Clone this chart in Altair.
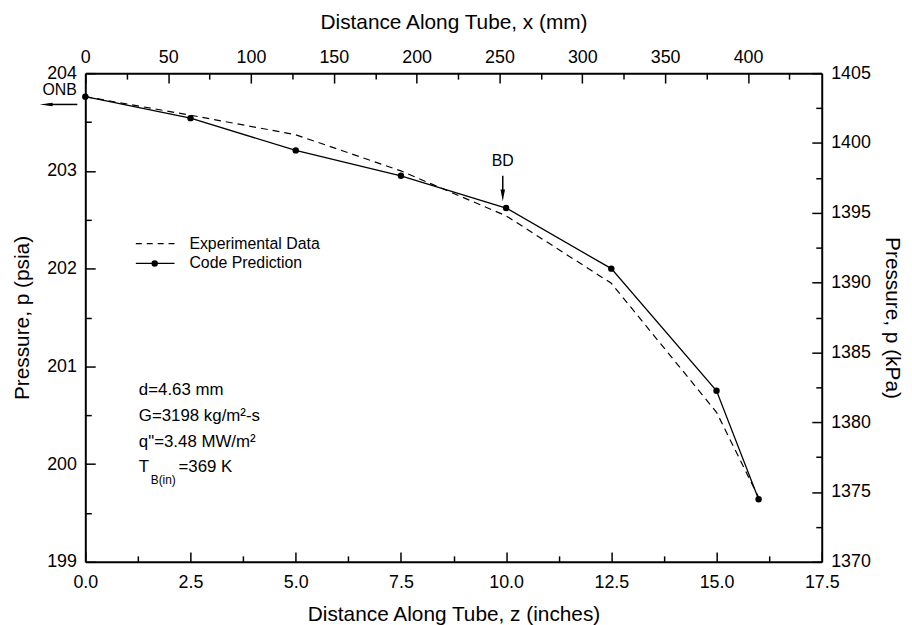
import altair as alt
import pandas as pd

FONT = "Liberation Sans"

# ---- data ----
z_in = [0.0, 2.5, 5.0, 7.5, 10.0, 12.5, 15.0, 16.0]
p_code = [203.76, 203.54, 203.21, 202.95, 202.62, 202.00, 200.75, 199.64]
p_exp = [203.76, 203.57, 203.37, 203.00, 202.54, 201.85, 200.53, 199.66]

# axis tick values (major + minor)
in_ticks = [0, 1.25, 2.5, 3.75, 5, 6.25, 7.5, 8.75, 10, 11.25, 12.5, 13.75, 15, 16.25, 17.5]
psia_ticks = [199, 199.5, 200, 200.5, 201, 201.5, 202, 202.5, 203, 203.5, 204]
mm_ticks = [0, 25, 50, 75, 100, 125, 150, 175, 200, 225, 250, 275, 300, 325, 350, 375, 400, 425]
kpa_ticks = [1370, 1372.5, 1375, 1377.5, 1380, 1382.5, 1385, 1387.5, 1390, 1392.5,
             1395, 1397.5, 1400, 1402.5, 1405]

# annotation anchors (data units)
onb_text = {"z": [-0.61], "p": [203.83]}
onb_arrow = {"z": [-0.19], "z2": [-0.9], "p": [203.68]}
onb_head = {"z": [-0.93], "p": [203.68]}
bd_text = {"z": [9.92], "p": [203.10]}
bd_arrow = {"z": [9.92], "p": [202.95], "p2": [202.76]}
bd_head = {"z": [9.92], "p": [202.75]}

df_code = pd.DataFrame({"z": z_in, "p": p_code})
df_exp = pd.DataFrame({"z": z_in, "p": p_exp})
df_sec = pd.DataFrame({"mm": [0, 444.5], "kpa": [1370, 1405]})
df_one = pd.DataFrame({"k": [0]})

xs = alt.Scale(domain=[0, 17.5], nice=False, zero=False)
ys = alt.Scale(domain=[199, 204], nice=False, zero=False)
mms = alt.Scale(domain=[0, 444.5], nice=False, zero=False)
kps = alt.Scale(domain=[1370, 1405], nice=False, zero=False)

common = dict(
    domainColor="black", domainWidth=2, tickColor="black", tickWidth=1.5,
    labelFont=FONT, labelFontSize=18, labelColor="black",
    titleFont=FONT, titleFontSize=21, titleFontWeight="normal", titleColor="black",
    grid=False, labelFlush=False, labelOverlap=False, labelBound=False,
)

x_axis = alt.Axis(
    orient="bottom", values=in_ticks,
    tickSize=alt.ExprRef("datum.value % 2.5 === 0 ? -10 : -6"),
    labelExpr="datum.value % 2.5 === 0 ? format(datum.value, '.1f') : ''",
    labelPadding=22, title="Distance Along Tube, z (inches)", titlePadding=8, **common)
y_axis = alt.Axis(
    orient="left", values=psia_ticks,
    tickSize=alt.ExprRef("datum.value % 1 === 0 ? -10 : -6"),
    labelExpr="datum.value % 1 === 0 ? format(datum.value, 'd') : ''",
    labelPadding=19, title="Pressure, p (psia)", titlePadding=14, **common)
top_axis = alt.Axis(
    orient="top", values=mm_ticks,
    tickSize=alt.ExprRef("datum.value % 50 === 0 ? -10 : -6"),
    labelExpr="datum.value % 50 === 0 ? format(datum.value, 'd') : ''",
    labelPadding=17, title="Distance Along Tube, x (mm)", titlePadding=12, **common)
right_axis = alt.Axis(
    orient="right", values=kpa_ticks,
    tickSize=alt.ExprRef("datum.value % 5 === 0 ? -10 : -6"),
    labelExpr="datum.value % 5 === 0 ? format(datum.value, 'd') : ''",
    labelPadding=19, title="Pressure, p (kPa)", titlePadding=11, **common)


def X(field="z:Q"):
    return alt.X(field, scale=xs, axis=None)


def Y(field="p:Q"):
    return alt.Y(field, scale=ys, axis=None)


exp_line = alt.Chart(df_exp).mark_line(color="black", strokeWidth=1.2, strokeDash=[7, 5]).encode(
    x=alt.X("z:Q", scale=xs, axis=x_axis), y=alt.Y("p:Q", scale=ys, axis=y_axis))
code_line = alt.Chart(df_code).mark_line(color="black", strokeWidth=1.3).encode(x=X(), y=Y())
code_pts = alt.Chart(df_code).mark_point(filled=True, size=42, color="black", opacity=1).encode(
    x=X(), y=Y())


def dtext(d, label):
    return alt.Chart(pd.DataFrame(d)).mark_text(
        text=label, font=FONT, fontSize=16, color="black", align="center", baseline="middle",
    ).encode(x=X(), y=Y())


onb_t = dtext(onb_text, "ONB")
bd_t = dtext(bd_text, "BD")
onb_r = alt.Chart(pd.DataFrame(onb_arrow)).mark_rule(color="black", strokeWidth=1.5).encode(
    x=X(), x2="z2:Q", y=Y())
onb_h = alt.Chart(pd.DataFrame(onb_head)).mark_point(
    shape="M1,-0.28L1,0.28L-1,0Z", size=170, filled=True, color="black", opacity=1).encode(
    x=X(), y=Y())
bd_r = alt.Chart(pd.DataFrame(bd_arrow)).mark_rule(color="black", strokeWidth=1.5).encode(
    x=X(), y=Y(), y2="p2:Q")
bd_h = alt.Chart(pd.DataFrame(bd_head)).mark_point(
    shape="M-0.38,-1L0.38,-1L0,1Z", size=144, filled=True, color="black", opacity=1).encode(
    x=X(), y=Y())

base = alt.Chart(df_one)


def ptext(label, px, py, size=16, align="left"):
    return base.mark_text(text=label, font=FONT, fontSize=size, color="black",
                          align=align, baseline="middle").encode(
        x=alt.value(px), y=alt.value(py))


leg_dash = base.mark_rule(color="black", strokeWidth=1.2, strokeDash=[6, 5]).encode(
    x=alt.value(51), x2=alt.value(90), y=alt.value(172))
leg_solid = base.mark_rule(color="black", strokeWidth=1.3).encode(
    x=alt.value(51), x2=alt.value(90), y=alt.value(192))
leg_dot = base.mark_point(filled=True, size=42, color="black", opacity=1).encode(
    x=alt.value(70), y=alt.value(192))
leg_t1 = ptext("Experimental Data", 105, 172, 16)
leg_t2 = ptext("Code Prediction", 105, 192, 16)

par1 = ptext("d=4.63 mm", 54, 320, 17)
par2 = ptext("G=3198 kg/m²-s", 54, 346, 17)
par3 = ptext('q"=3.48 MW/m²', 54, 372, 17)
par4a = ptext("T", 54, 397, 17)
par4b = ptext("B(in)", 66, 410, 12)
par4c = ptext("=369 K", 94, 397, 17)

sec = alt.Chart(df_sec).mark_point(opacity=0).encode(
    x=alt.X("mm:Q", scale=mms, axis=top_axis), y=alt.Y("kpa:Q", scale=kps, axis=right_axis))

chart = alt.layer(
    exp_line, code_line, code_pts, onb_t, bd_t, onb_r, onb_h, bd_r, bd_h,
    leg_dash, leg_solid, leg_dot, leg_t1, leg_t2, par1, par2, par3, par4a, par4b, par4c,
    sec,
).resolve_scale(x="independent", y="independent").properties(
    width=743, height=493,
    autosize=alt.AutoSizeParams(type="none"),
    padding={"left": 78, "top": 63, "right": 83, "bottom": 61},
    background="white",
).configure_view(stroke=None)

chart.save("out.html", embed_options={"renderer": "svg", "actions": False})
